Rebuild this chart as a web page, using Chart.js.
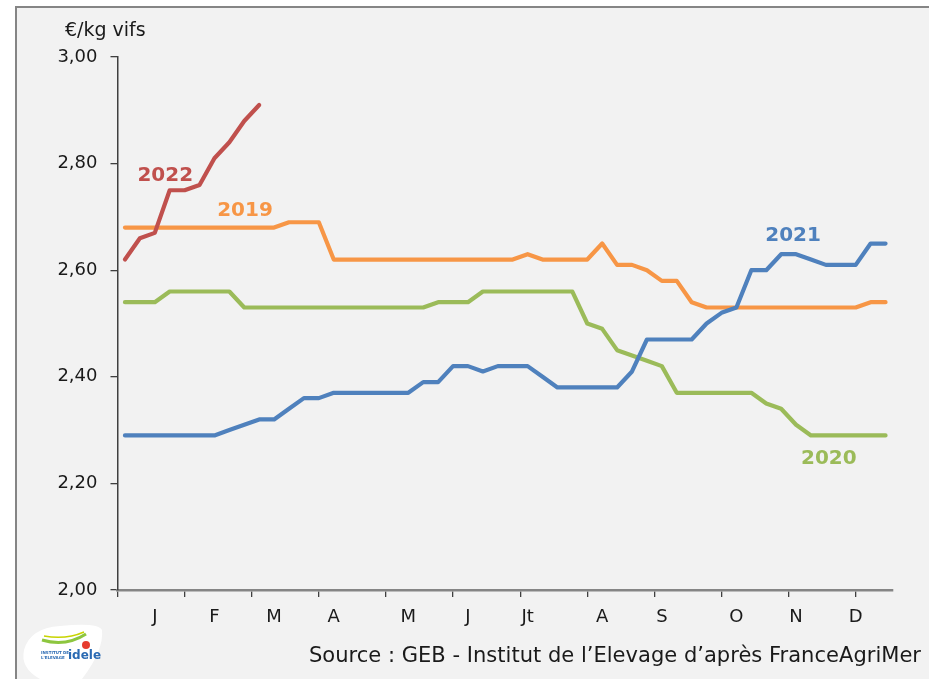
<!DOCTYPE html>
<html>
<head>
<meta charset="utf-8">
<script src="https://cdn.jsdelivr.net/npm/chart.js@4/dist/chart.umd.min.js"></script>
<style>
  html, body { margin: 0; padding: 0; background: #fff; }
  #frame {
    position: absolute; left: 15px; top: 6px; width: 940px; height: 700px;
    background: #f2f2f2; border-left: 2px solid #858585; border-top: 2px solid #858585;
  }
  #chart { position: absolute; left: 0; top: 0; }
</style>
</head>
<body>
<div id="frame"></div>
<canvas id="chart" width="929" height="679"></canvas>
<script>
const monthLabels = ['J', 'F', 'M', 'A', 'M', 'J', 'Jt', 'A', 'S', 'O', 'N', 'D'];
const monthLabelWeeks = [3, 7, 11, 15, 20, 24, 28, 33, 37, 42, 46, 50];
const yTicks = [2.0, 2.2, 2.4, 2.6, 2.8, 3.0];

// prix hebdomadaires (€/kg vif), semaines 1 à 52
const prix2019 = [
  2.68, 2.68, 2.68, 2.68, 2.68, 2.68, 2.68, 2.68, 2.68, 2.68, 2.68,
  2.69, 2.69, 2.69,
  2.62, 2.62, 2.62, 2.62, 2.62, 2.62, 2.62, 2.62, 2.62, 2.62, 2.62, 2.62, 2.62,
  2.63, 2.62, 2.62, 2.62, 2.62, 2.65, 2.61, 2.61, 2.60, 2.58, 2.58, 2.54,
  2.53, 2.53, 2.53, 2.53, 2.53, 2.53, 2.53, 2.53, 2.53, 2.53, 2.53,
  2.54, 2.54
];
const prix2020 = [
  2.54, 2.54, 2.54,
  2.56, 2.56, 2.56, 2.56, 2.56,
  2.53, 2.53, 2.53, 2.53, 2.53, 2.53, 2.53, 2.53, 2.53, 2.53, 2.53, 2.53, 2.53,
  2.54, 2.54, 2.54,
  2.56, 2.56, 2.56, 2.56, 2.56, 2.56, 2.56,
  2.50, 2.49, 2.45, 2.44, 2.43, 2.42,
  2.37, 2.37, 2.37, 2.37, 2.37, 2.37,
  2.35, 2.34, 2.31,
  2.29, 2.29, 2.29, 2.29, 2.29, 2.29
];
const prix2021 = [
  2.29, 2.29, 2.29, 2.29, 2.29, 2.29, 2.29,
  2.30, 2.31, 2.32, 2.32, 2.34, 2.36, 2.36,
  2.37, 2.37, 2.37, 2.37, 2.37, 2.37,
  2.39, 2.39, 2.42, 2.42, 2.41, 2.42, 2.42, 2.42, 2.40,
  2.38, 2.38, 2.38, 2.38, 2.38,
  2.41, 2.47, 2.47, 2.47, 2.47,
  2.50, 2.52, 2.53, 2.60, 2.60, 2.63, 2.63, 2.62, 2.61, 2.61, 2.61,
  2.65, 2.65
];
const prix2022 = [2.62, 2.66, 2.67, 2.75, 2.75, 2.76, 2.81, 2.84, 2.88, 2.91];

const seriesNames = ['2022', '2021', '2020', '2019'];
const seriesValues = [prix2022, prix2021, prix2020, prix2019];
const seriesColors = ['#c0504d', '#4f81bd', '#9bbb59', '#f79646'];

// position des étiquettes d'année (en unités du graphique)
const yearLabelPos = {
  '2022': [3.2, 2.777],
  '2019': [8.55, 2.712],
  '2021': [45.3, 2.665],
  '2020': [47.7, 2.247]
};

const tickMarks = [];
for (let i = 0; i < 12; i++) tickMarks.push(i * 4.5);
const labelAt = new Map();
monthLabelWeeks.forEach((w, i) => labelAt.set(w - 0.5, monthLabels[i]));
const xTickValues = [...new Set([...tickMarks, ...labelAt.keys()])].sort((a, b) => a - b);

const yearLabels = {
  id: 'yearLabels',
  afterDatasetsDraw(chart) {
    const { ctx, scales } = chart;
    ctx.save();
    ctx.font = 'bold 20px "DejaVu Sans"';
    ctx.textAlign = 'center';
    ctx.textBaseline = 'middle';
    seriesNames.forEach((name, i) => {
      const p = yearLabelPos[name];
      ctx.fillStyle = seriesColors[i];
      ctx.fillText(name, scales.x.getPixelForValue(p[0]), scales.y.getPixelForValue(p[1]));
    });
    ctx.restore();
  }
};

const decorations = {
  id: 'decorations',
  afterDraw(chart) {
    const ctx = chart.ctx;
    ctx.save();
    // unité
    ctx.fillStyle = '#1a1a1a';
    ctx.font = '19px "DejaVu Sans"';
    ctx.textBaseline = 'middle';
    ctx.fillText('€/kg vifs', 65, 31);
    // source
    ctx.font = '21.5px "DejaVu Sans"';
    ctx.textAlign = 'right';
    ctx.fillText('Source : GEB - Institut de l\u2019Elevage d\u2019après FranceAgriMer', 921, 656, 612);
    // logo
    ctx.fillStyle = '#ffffff';
    ctx.beginPath();
    ctx.moveTo(24, 650);
    ctx.quadraticCurveTo(30, 628, 60, 626);
    ctx.quadraticCurveTo(98, 622, 102, 630);
    ctx.quadraticCurveTo(104, 650, 82, 679);
    ctx.lineTo(40, 679);
    ctx.quadraticCurveTo(20, 668, 24, 650);
    ctx.fill();
    ctx.strokeStyle = '#8dc63f';
    ctx.lineWidth = 3;
    ctx.beginPath();
    ctx.moveTo(42, 640);
    ctx.quadraticCurveTo(66, 647, 86, 634);
    ctx.stroke();
    ctx.strokeStyle = '#c8d400';
    ctx.lineWidth = 1.5;
    ctx.beginPath();
    ctx.moveTo(44, 636);
    ctx.quadraticCurveTo(66, 640, 84, 632);
    ctx.stroke();
    ctx.fillStyle = '#e63c2f';
    ctx.beginPath();
    ctx.arc(86, 645, 4, 0, Math.PI * 2);
    ctx.fill();
    ctx.fillStyle = '#2a6ab3';
    ctx.font = 'bold 12px "DejaVu Sans"';
    ctx.textAlign = 'left';
    ctx.fillText('idele', 68, 656);
    ctx.font = 'bold 4px "DejaVu Sans"';
    ctx.fillText('INSTITUT DE', 41, 653);
    ctx.fillText("L'ELEVAGE", 41, 658);
    ctx.restore();
  }
};

new Chart(document.getElementById('chart'), {
  type: 'line',
  data: {
    datasets: seriesNames.map((name, i) => ({
      label: name,
      data: seriesValues[i].map((v, k) => ({ x: k + 0.5, y: v })),
      borderColor: seriesColors[i],
      backgroundColor: seriesColors[i],
      borderWidth: 4.2,
      pointRadius: 0,
      tension: 0,
      borderJoinStyle: 'round',
      borderCapStyle: 'round'
    }))
  },
  options: {
    responsive: false,
    devicePixelRatio: 1,
    animation: false,
    layout: { padding: { left: 0, top: 57, right: 36, bottom: 0 } },
    plugins: { legend: { display: false }, tooltip: { enabled: false } },
    scales: {
      x: {
        type: 'linear',
        min: 0,
        max: 52,
        afterBuildTicks: scale => { scale.ticks = xTickValues.map(v => ({ value: v })); },
        afterFit: scale => { scale.height = 89; },
        border: { display: true, color: '#858585', width: 2.5 },
        grid: {
          drawOnChartArea: false,
          drawTicks: true,
          tickLength: 7,
          lineWidth: 1.3,
          color: ctx => (ctx.tick && tickMarks.includes(ctx.tick.value)) ? '#404040' : 'rgba(0,0,0,0)'
        },
        ticks: {
          autoSkip: false,
          maxRotation: 0,
          padding: 10,
          color: '#1a1a1a',
          font: { family: 'DejaVu Sans', size: 18 },
          callback: v => labelAt.get(v) || ''
        }
      },
      y: {
        min: 2,
        max: 3,
        afterBuildTicks: scale => { scale.ticks = yTicks.map(v => ({ value: v })); },
        afterFit: scale => { scale.width = 117.5; },
        border: { display: true, color: '#404040', width: 1.5 },
        grid: { drawOnChartArea: false, drawTicks: true, tickLength: 7, color: '#404040', lineWidth: 1.3 },
        ticks: {
          padding: 13,
          color: '#1a1a1a',
          font: { family: 'DejaVu Sans', size: 18 },
          callback: v => Number(v).toFixed(2).replace('.', ',')
        }
      }
    }
  },
  plugins: [yearLabels, decorations]
});
</script>
</body>
</html>
